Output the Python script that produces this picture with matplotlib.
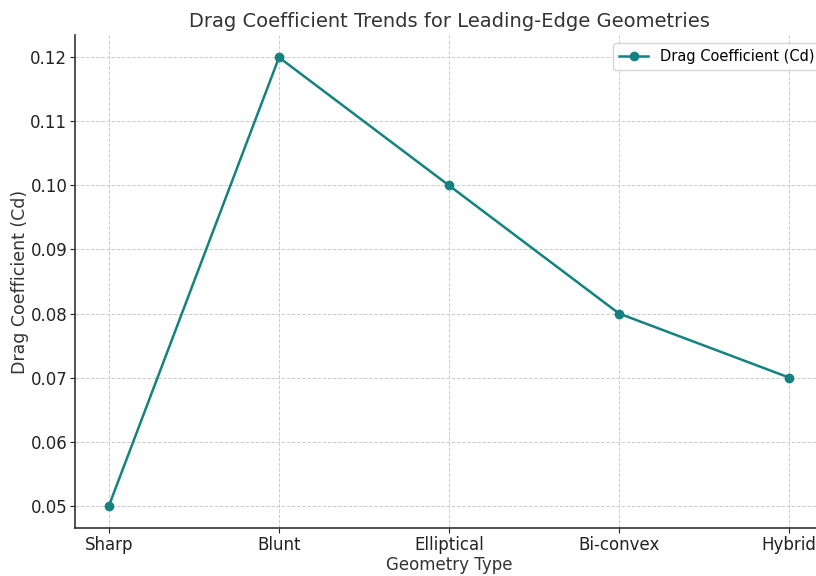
import matplotlib
matplotlib.use("Agg")
import matplotlib.pyplot as plt

categories = ["Sharp", "Blunt", "Elliptical", "Bi-convex", "Hybrid"]
drag_cd = [0.05, 0.12, 0.10, 0.08, 0.07]

fig = plt.figure(figsize=(8.16, 5.76), dpi=100)
ax = fig.add_axes([75/816, 1-528/576, (823-75)/816, (528-35)/576])
ax.plot(categories, drag_cd, marker="o", color="#138280", linewidth=1.8,
        markersize=6, label="Drag Coefficient (Cd)")
ax.set_title("Drag Coefficient Trends for Leading-Edge Geometries", fontsize=14, color="#333333", pad=6)
ax.set_xlabel("Geometry Type", fontsize=12, color="#333333")
ax.set_ylabel("Drag Coefficient (Cd)", fontsize=12.5, color="#333333")
ax.xaxis.set_label_coords(0.5, -(556-528)/493)
ax.yaxis.set_label_coords(-(75-29)/748, 0.5)
ax.tick_params(labelsize=12, colors="#222222", length=3.5, pad=2)
ax.grid(True, linestyle="--", color="#cccccc", linewidth=0.7)
for s in ["top", "right"]:
    ax.spines[s].set_visible(False)
ax.spines["left"].set_linewidth(1.2)
ax.spines["bottom"].set_linewidth(1.2)
ax.spines["left"].set_color("#333333")
ax.spines["bottom"].set_color("#333333")
ax.legend(loc="upper right", fontsize=10.5, bbox_to_anchor=(1.006, 0.998))
fig.savefig("out.png", dpi=100)
